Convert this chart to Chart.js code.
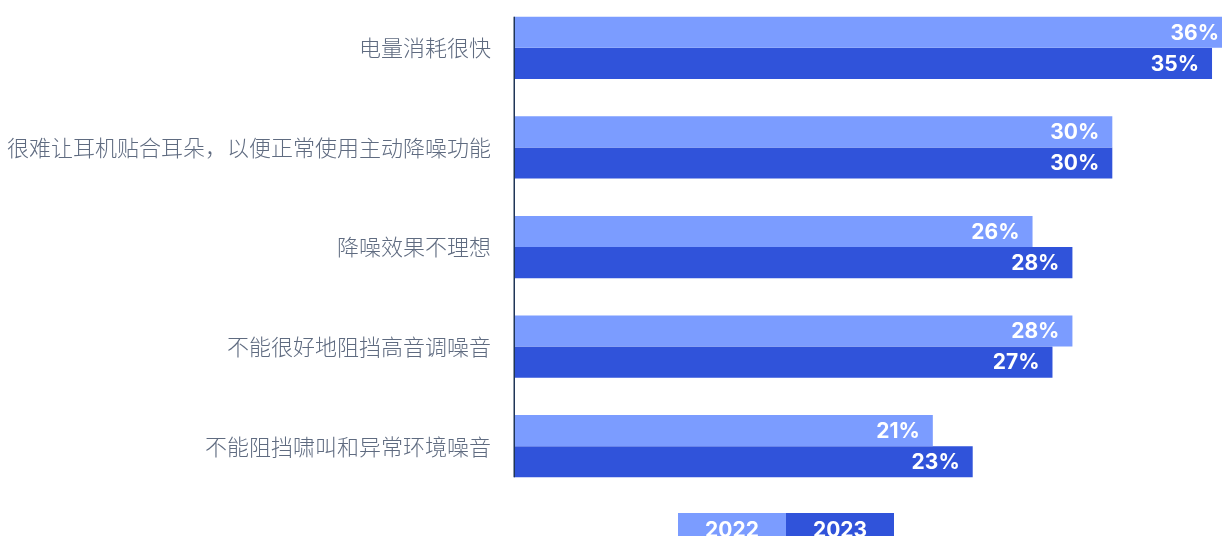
<!DOCTYPE html>
<html>
<head>
<meta charset="utf-8">
<script src="https://cdn.jsdelivr.net/npm/chart.js@4/dist/chart.umd.min.js"></script>
<style>
    html, body { margin: 0; padding: 0; background: #ffffff; overflow: hidden; }
    .chart-wrap { position: relative; width: 1224px; height: 538px; margin-top: -2px; }
</style>
</head>
<body>
<div class="chart-wrap">
    <canvas id="barChart" width="1224" height="538"></canvas>
</div>
<script>
// Chart data
const categories = [
    '电量消耗很快',
    '很难让耳机贴合耳朵，以便正常使用主动降噪功能',
    '降噪效果不理想',
    '不能很好地阻挡高音调噪音',
    '不能阻挡啸叫和异常环境噪音'
];
const seriesLabels = ['2022', '2023'];
const values2022 = [36, 30, 26, 28, 21];
const values2023 = [35, 30, 28, 27, 23];

const lightBlue = '#7b9cff';
const darkBlue = '#3053da';

// Value labels at the end of each bar
const valueLabels = {
    id: 'valueLabels',
    afterDatasetsDraw(chart) {
        const ctx = chart.ctx;
        ctx.save();
        ctx.font = 'bold 21px Inter, "Liberation Sans", sans-serif';
        ctx.fillStyle = '#ffffff';
        ctx.textAlign = 'right';
        ctx.textBaseline = 'middle';
        const xScale = chart.scales.x;
        chart.data.datasets.forEach((ds, i) => {
            const meta = chart.getDatasetMeta(i);
            meta.data.forEach((bar, j) => {
                const xEnd = xScale.getPixelForValue(ds.data[j]);
                ctx.fillText(ds.data[j] + '%', xEnd - 13, bar.y + 1);
            });
        });
        ctx.restore();
    }
};

// Axis line spanning only the bars, plus the block legend at the bottom
const axisAndLegend = {
    id: 'axisAndLegend',
    afterDraw(chart) {
        const ctx = chart.ctx;
        const area = chart.chartArea;
        const first = chart.getDatasetMeta(0).data[0];
        const lastMeta = chart.getDatasetMeta(chart.data.datasets.length - 1);
        const last = lastMeta.data[lastMeta.data.length - 1];
        const top = first.y - first.height / 2;
        const bottom = last.y + last.height / 2;
        ctx.save();
        ctx.strokeStyle = '#1f3557';
        ctx.lineWidth = 1.5;
        ctx.beginPath();
        ctx.moveTo(area.left + 0.25, top);
        ctx.lineTo(area.left + 0.25, bottom);
        ctx.stroke();

        // legend
        const boxW = 108;
        const boxH = 26;
        const startX = 678;
        const boxY = 515;
        ctx.font = 'bold 21px Inter, "Liberation Sans", sans-serif';
        ctx.textAlign = 'center';
        ctx.textBaseline = 'middle';
        chart.data.datasets.forEach((ds, i) => {
            const x = startX + i * boxW;
            ctx.fillStyle = ds.backgroundColor;
            ctx.fillRect(x, boxY, boxW, boxH);
            ctx.fillStyle = '#ffffff';
            ctx.fillText(ds.label, x + boxW / 2, boxY + 18);
        });
        ctx.restore();
    }
};

document.addEventListener('DOMContentLoaded', function() {
    const ctx = document.getElementById('barChart');
    new Chart(ctx, {
        type: 'bar',
        data: {
            labels: categories,
            datasets: [
                {
                    label: seriesLabels[0],
                    data: values2022,
                    backgroundColor: lightBlue,
                    borderWidth: 0
                },
                {
                    label: seriesLabels[1],
                    data: values2023,
                    backgroundColor: darkBlue,
                    borderWidth: 0
                }
            ]
        },
        options: {
            indexAxis: 'y',
            responsive: false,
            animation: false,
            datasets: {
                bar: {
                    categoryPercentage: 0.625,
                    barPercentage: 1.0
                }
            },
            layout: {
                padding: { top: 0, right: 2, bottom: 40, left: 0 }
            },
            plugins: {
                legend: { display: false },
                tooltip: { enabled: false }
            },
            scales: {
                x: {
                    min: 0,
                    max: 35.5,
                    display: false,
                    grid: { display: false }
                },
                y: {
                    afterFit: function(scale) {
                        scale.width = 514;
                        scale.paddingTop = 0;
                        scale.paddingBottom = 0;
                    },
                    grid: { display: false, drawTicks: false },
                    border: { display: false },
                    ticks: {
                        padding: 23,
                        color: '#5f6b80',
                        font: {
                            family: '"Noto Sans CJK SC", "Noto Sans", sans-serif',
                            size: 22,
                            weight: 300
                        }
                    }
                }
            }
        },
        plugins: [valueLabels, axisAndLegend]
    });
});
</script>
</body>
</html>
